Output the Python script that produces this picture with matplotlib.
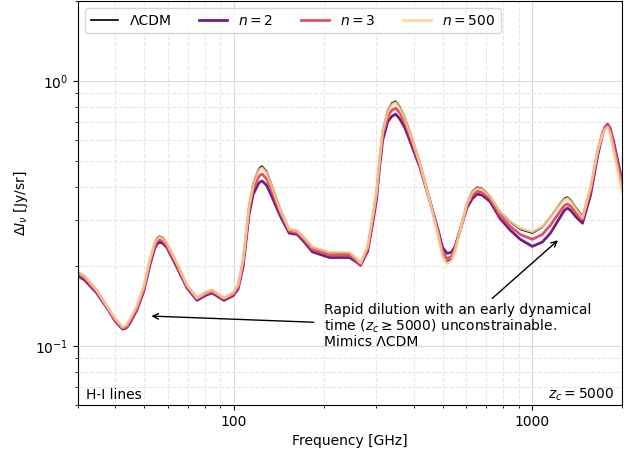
import numpy as np
import matplotlib
matplotlib.use('Agg')
import matplotlib.pyplot as plt
from matplotlib.ticker import ScalarFormatter, NullFormatter

# Frequency grid [GHz]
freq = [30.0, 31.5, 34.6, 37.9, 40.0, 42.3, 43.5, 44.7, 47.1, 49.8,
        52.2, 54.2, 55.2, 56.3, 57.8, 59.5, 64.3, 69.5, 75.1, 79.9,
        84.3, 92.5, 99.2, 103.1, 107.2, 109.7, 112.3, 115.9, 120.4, 122.3,
        124.2, 128.5, 133.2, 142.9, 153.1, 162.9, 172.1, 183.0, 208.9, 243.9,
        255.6, 265.6, 280.5, 291.5, 300.7, 307.8, 315.0, 327.5, 337.5, 348.4,
        360.0, 373.6, 387.0, 400.6, 419.7, 453.6, 482.6, 500.0, 517.4, 535.0,
        550.5, 604.0, 628.0, 652.9, 680.0, 722.2, 780.3, 843.4, 911.3, 1000.0,
        1080.7, 1149.9, 1242.8, 1280.0, 1312.0, 1350.0, 1395.7, 1473.6, 1567.9, 1655.5,
        1720.8, 1755.0, 1788.6, 1825.0, 1874.0, 2000.0]

# Delta I_nu [Jy/sr]
lcdm = [0.190, 0.184, 0.163, 0.139, 0.126, 0.117, 0.119, 0.125, 0.140, 0.167,
        0.211, 0.245, 0.256, 0.260, 0.256, 0.245, 0.206, 0.170, 0.152, 0.159,
        0.163, 0.152, 0.159, 0.170, 0.211, 0.267, 0.340, 0.412, 0.461, 0.473,
        0.478, 0.457, 0.412, 0.329, 0.276, 0.272, 0.256, 0.236, 0.225, 0.224,
        0.215, 0.206, 0.236, 0.307, 0.388, 0.517, 0.653, 0.777, 0.826, 0.840,
        0.800, 0.731, 0.655, 0.583, 0.495, 0.356, 0.267, 0.222, 0.208, 0.213,
        0.230, 0.347, 0.383, 0.398, 0.393, 0.368, 0.320, 0.294, 0.276, 0.267,
        0.281, 0.307, 0.347, 0.361, 0.365, 0.355, 0.335, 0.309, 0.398, 0.549,
        0.642, 0.672, 0.682, 0.646, 0.564, 0.395]

n2 = [0.184, 0.178, 0.159, 0.137, 0.124, 0.116, 0.117, 0.122, 0.136, 0.161,
      0.202, 0.234, 0.243, 0.247, 0.244, 0.236, 0.199, 0.166, 0.149, 0.155,
      0.159, 0.149, 0.155, 0.164, 0.199, 0.249, 0.314, 0.374, 0.408, 0.417,
      0.420, 0.405, 0.372, 0.310, 0.267, 0.264, 0.247, 0.227, 0.216, 0.216,
      0.209, 0.202, 0.228, 0.290, 0.362, 0.478, 0.598, 0.702, 0.736, 0.751,
      0.719, 0.668, 0.604, 0.545, 0.474, 0.352, 0.276, 0.236, 0.224, 0.226,
      0.237, 0.333, 0.359, 0.375, 0.371, 0.351, 0.303, 0.274, 0.253, 0.238,
      0.247, 0.267, 0.308, 0.325, 0.332, 0.324, 0.309, 0.291, 0.372, 0.522,
      0.632, 0.670, 0.688, 0.662, 0.590, 0.420]

n3 = [0.187, 0.181, 0.161, 0.138, 0.125, 0.117, 0.118, 0.124, 0.138, 0.164,
      0.207, 0.240, 0.249, 0.253, 0.249, 0.240, 0.203, 0.168, 0.151, 0.157,
      0.161, 0.151, 0.157, 0.167, 0.206, 0.259, 0.328, 0.393, 0.432, 0.442,
      0.446, 0.428, 0.393, 0.320, 0.272, 0.268, 0.252, 0.232, 0.221, 0.221,
      0.212, 0.204, 0.233, 0.300, 0.377, 0.500, 0.628, 0.738, 0.775, 0.791,
      0.757, 0.700, 0.630, 0.565, 0.485, 0.354, 0.271, 0.227, 0.214, 0.218,
      0.233, 0.340, 0.370, 0.385, 0.380, 0.360, 0.311, 0.283, 0.264, 0.253,
      0.264, 0.286, 0.324, 0.339, 0.344, 0.336, 0.320, 0.301, 0.388, 0.540,
      0.640, 0.672, 0.682, 0.652, 0.575, 0.405]

n500 = [0.190, 0.184, 0.163, 0.139, 0.127, 0.118, 0.120, 0.126, 0.141, 0.168,
        0.212, 0.245, 0.254, 0.258, 0.254, 0.245, 0.206, 0.170, 0.152, 0.159,
        0.163, 0.152, 0.159, 0.170, 0.211, 0.266, 0.338, 0.408, 0.455, 0.466,
        0.471, 0.451, 0.408, 0.327, 0.276, 0.272, 0.256, 0.237, 0.226, 0.226,
        0.216, 0.206, 0.238, 0.308, 0.388, 0.515, 0.648, 0.770, 0.816, 0.830,
        0.791, 0.724, 0.649, 0.578, 0.490, 0.352, 0.264, 0.219, 0.205, 0.210,
        0.228, 0.345, 0.380, 0.394, 0.390, 0.368, 0.322, 0.296, 0.279, 0.270,
        0.283, 0.307, 0.344, 0.357, 0.361, 0.351, 0.331, 0.305, 0.398, 0.545,
        0.632, 0.658, 0.670, 0.633, 0.548, 0.380]

cmap = plt.get_cmap('magma')

fig = plt.figure(figsize=(6.4, 4.54), dpi=100)
ax = fig.add_axes([0.122, 0.108, 0.85, 0.889])

ax.plot(freq, lcdm, color='k', lw=1.2, label='ΛCDM')
ax.plot(freq, n2, color=cmap(0.33), lw=2, label=r'$n=2$')
ax.plot(freq, n3, color=cmap(0.62), lw=2, label=r'$n=3$')
ax.plot(freq, n500, color=cmap(0.9), lw=2, alpha=0.85, label=r'$n=500$')

ax.set_xscale('log')
ax.set_yscale('log')
ax.set_xlim(30, 2000)
ax.set_ylim(0.06, 2.0)

ax.xaxis.set_major_formatter(ScalarFormatter())
ax.xaxis.set_minor_formatter(NullFormatter())

ax.grid(True, which='major', ls='-', color='0.85', lw=0.8)
ax.grid(True, which='minor', ls='--', color='0.9', lw=0.8)

ax.set_xlabel('Frequency [GHz]')
ax.set_ylabel(r'$\Delta I_\nu$ [Jy/sr]')

ax.legend(loc='upper left', ncol=4, fontsize=10)

ax.text(0.015, 0.015, 'H-I lines', transform=ax.transAxes, fontsize=10)
ax.text(0.985, 0.015, r'$z_c = 5000$', transform=ax.transAxes, fontsize=10, ha='right')

ax.text(201, 0.119, 'Rapid dilution with an early dynamical\n'
        r'time ($z_c \geq 5000$) unconstrainable.' '\n'
        'Mimics ΛCDM', ha='left', va='center', fontsize=10, linespacing=1.0)
ax.annotate('', xy=(51.7, 0.130), xytext=(189, 0.123),
            arrowprops=dict(arrowstyle='->', color='k', lw=1))
ax.annotate('', xy=(1239, 0.255), xytext=(722, 0.149),
            arrowprops=dict(arrowstyle='->', color='k', lw=1))

plt.savefig('out.png', dpi=100)
